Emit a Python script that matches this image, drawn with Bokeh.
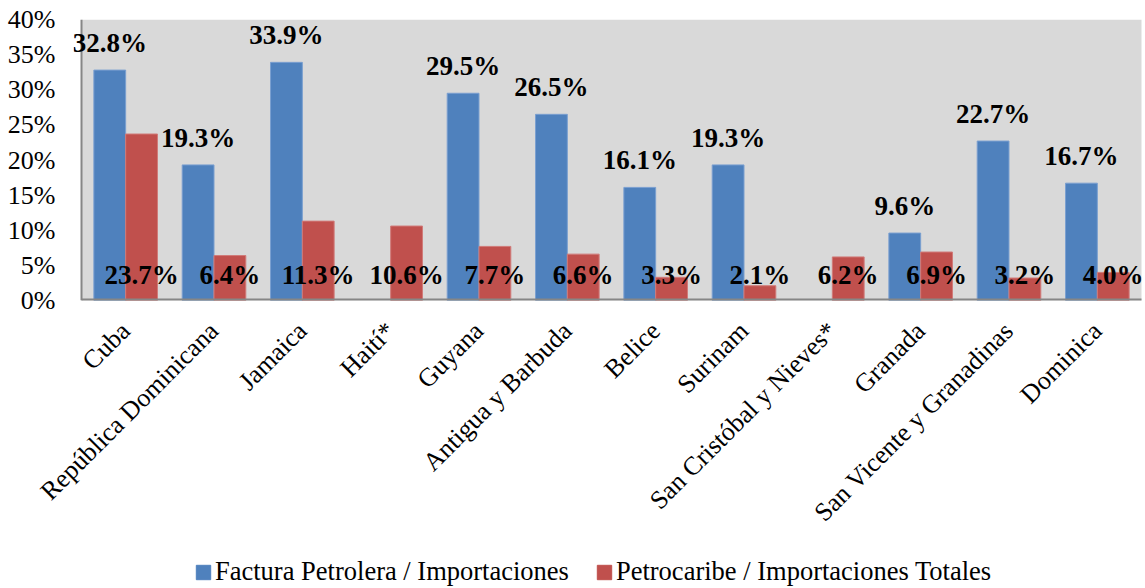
import math
from bokeh.plotting import figure
from bokeh.layouts import column
from bokeh.models import (ColumnDataSource, Range1d, FixedTicker, NumeralTickFormatter,
                          Legend, LegendItem, LabelSet, BoxAnnotation, Span)
from bokeh.transform import dodge
from bokeh.embed import file_html
from bokeh.resources import INLINE

countries = ["Cuba", "República Dominicana", "Jamaica", "Haití*", "Guyana",
             "Antigua y Barbuda", "Belice", "Surinam", "San Cristóbal y Nieves*",
             "Granada", "San Vicente y Granadinas", "Dominica"]
factura = [32.8, 19.3, 33.9, float("nan"), 29.5, 26.5, 16.1, 19.3, float("nan"), 9.6, 22.7, 16.7]
petrocaribe = [23.7, 6.4, 11.3, 10.6, 7.7, 6.6, 3.3, 2.1, 6.2, 6.9, 3.2, 4.0]
y_ticks = [0, 5, 10, 15, 20, 25, 30, 35, 40]
series_names = ["Factura Petrolera / Importaciones", "Petrocaribe / Importaciones Totales"]

BLUE = "#4f81bd"
RED = "#c0504d"
GRAY_BG = "#d9d9d9"
AXIS = "#868686"
FONT = "Liberation Serif"
W = 1144

n = len(countries)
centers = [i + 0.5 for i in range(n)]

src = ColumnDataSource(dict(
    x=centers,
    fac=[v / 100 for v in factura],
    pet=[v / 100 for v in petrocaribe],
    fac_lbl=["" if v != v else f"{v:.1f}%" for v in factura],
    pet_lbl=[f"{v:.1f}%" for v in petrocaribe],
    zero=[0.0] * n,
))

# plot-area geometry (pixels): frame spans 73..1144, category block spans 81..1141
FRAME_L, CAT_L, CAT_R, FRAME_R = 73, 81, 1141, W
ppu = (CAT_R - CAT_L) / n
x_start = -(CAT_L - FRAME_L) / ppu
x_end = n + (FRAME_R - CAT_R) / ppu

p = figure(x_range=Range1d(x_start, x_end), y_range=Range1d(0, max(y_ticks) / 100),
           width=W, height=548, output_backend="svg", toolbar_location=None,
           min_border_left=FRAME_L, min_border_top=19, min_border_right=0, min_border_bottom=248)
p.background_fill_color = "white"
p.border_fill_color = "white"
p.outline_line_color = None
p.xgrid.grid_line_color = None
p.ygrid.grid_line_color = None

p.add_layout(BoxAnnotation(left=0, right=n, fill_color=GRAY_BG, fill_alpha=1,
                           line_color=None, level="underlay"))

rb = p.vbar(x=dodge("x", -0.18), top="fac", width=0.36, source=src,
            fill_color=BLUE, line_color="#7a9fd0", line_width=1)
rr = p.vbar(x=dodge("x", 0.18), top="pet", width=0.36, source=src,
            fill_color=RED, line_color="#d07a78", line_width=1)

# axis lines restricted to the category block
p.add_layout(Span(location=0, dimension="height", line_color=AXIS, line_width=2))
p.segment(x0=[0], y0=[0], x1=[n], y1=[0], line_color=AXIS, line_width=4)

lbl_blue = LabelSet(x=dodge("x", -0.18), y="fac", text="fac_lbl", source=src,
                    text_font=FONT, text_font_style="bold", text_font_size="27px",
                    text_align="center", text_baseline="alphabetic", y_offset=18, text_color="black")
lbl_red = LabelSet(x=dodge("x", 0.18), y="zero", text="pet_lbl", source=src,
                   text_font=FONT, text_font_style="bold", text_font_size="27px",
                   text_align="center", text_baseline="alphabetic", y_offset=17, text_color="black")
p.add_layout(lbl_blue)
p.add_layout(lbl_red)

p.yaxis.ticker = FixedTicker(ticks=[t / 100 for t in y_ticks])
p.yaxis.formatter = NumeralTickFormatter(format="0%")
p.xaxis.ticker = FixedTicker(ticks=centers)
p.xaxis.major_label_overrides = {c: name for c, name in zip(centers, countries)}
for ax in (p.xaxis, p.yaxis):
    ax.axis_line_color = None
    ax.major_tick_line_color = None
    ax.minor_tick_line_color = None
    ax.major_tick_out = 0
    ax.major_tick_in = 0
    ax.minor_tick_out = 0
    ax.major_label_text_font = FONT
    ax.major_label_text_font_size = "26px"
    ax.major_label_text_color = "black"
p.yaxis.major_label_standoff = 18
p.xaxis.major_label_standoff = 26
p.xaxis.major_label_orientation = math.pi / 4

# legend strip
lg = figure(width=W, height=40, output_backend="svg", toolbar_location=None,
            min_border=0, x_range=Range1d(0, 1), y_range=Range1d(0, 1),
            x_axis_location=None, y_axis_location=None)
lg.grid.visible = False
lg.outline_line_color = None
nan = float("nan")
lb = lg.vbar(x=[nan], top=[nan], width=0.1, fill_color=BLUE, line_color=BLUE)
lr = lg.vbar(x=[nan], top=[nan], width=0.1, fill_color=RED, line_color=RED)
legend = Legend(items=[LegendItem(label=series_names[0], renderers=[lb]),
                       LegendItem(label=series_names[1], renderers=[lr])],
                orientation="horizontal", location=(121, 1),
                label_text_font=FONT, label_text_font_size="26.5px", label_text_color="black",
                glyph_width=18, glyph_height=18, spacing=26, label_standoff=3,
                border_line_color=None, background_fill_alpha=0, padding=0, margin=0)
lg.add_layout(legend)

layout = column(p, lg, spacing=0)
open("out.html", "w").write(file_html(layout, INLINE))
